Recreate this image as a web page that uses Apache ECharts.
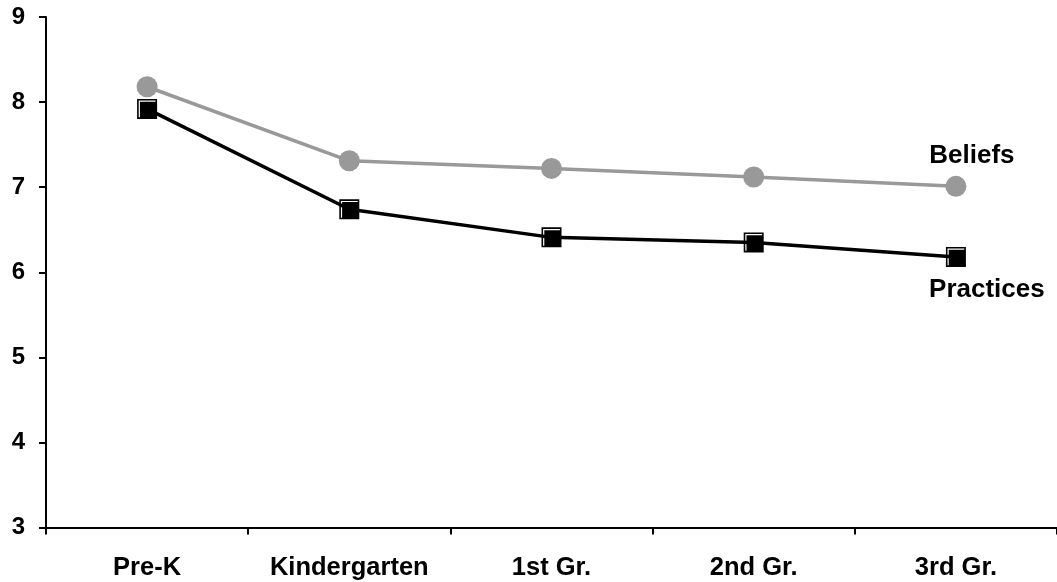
<!DOCTYPE html>
<html>
<head>
<meta charset="utf-8">
<script src="https://cdn.jsdelivr.net/npm/echarts@6/dist/echarts.min.js"></script>
<style>
html,body{margin:0;padding:0;background:#fff;}
#chart{width:1057px;height:582px;}
</style>
</head>
<body>
<div id="chart"></div>
<script>
const categories = ['Pre-K', 'Kindergarten', '1st Gr.', '2nd Gr.', '3rd Gr.'];
const beliefs = [8.18, 7.31, 7.22, 7.12, 7.01];
const practices = [7.92, 6.74, 6.41, 6.35, 6.18];
const yTicks = { min: 3, max: 9, interval: 1 };

const FONT = '"Liberation Sans", Arial, sans-serif';
const squarePath = 'path://M0 0H10V10H0Z M0.8 0.8V9.2H1.4V1.4H9.2V0.8Z';

function withEndLabel(values, name, labelOpts) {
  return values.map((v, i) => i === values.length - 1
    ? { value: v, label: Object.assign({ show: true, formatter: name }, labelOpts) }
    : v);
}

const chart = echarts.init(document.getElementById('chart'));
chart.setOption({
  animation: false,
  backgroundColor: '#fff',
  grid: { left: 46, right: 0, top: 17, bottom: 54.5, containLabel: false },
  textStyle: { fontFamily: FONT },
  xAxis: {
    type: 'category',
    data: categories,
    boundaryGap: true,
    axisLine: { lineStyle: { color: '#000', width: 2 } },
    axisTick: { show: true, alignWithLabel: false, length: 7, lineStyle: { color: '#000', width: 2 } },
    axisLabel: { color: '#000', fontSize: 25.5, fontWeight: 'bold', fontFamily: FONT, margin: 27, interval: 0 },
    splitLine: { show: false }
  },
  yAxis: {
    type: 'value',
    min: yTicks.min, max: yTicks.max, interval: yTicks.interval,
    axisLine: { show: true, lineStyle: { color: '#000', width: 2 } },
    axisTick: { show: true, length: 7, lineStyle: { color: '#000', width: 2 } },
    axisLabel: { color: '#000', fontSize: 24, fontWeight: 'bold', fontFamily: FONT, margin: 21 },
    splitLine: { show: false }
  },
  series: [
    {
      name: 'Beliefs',
      type: 'line',
      data: withEndLabel(beliefs, 'Beliefs', { position: 'top', offset: [16, -2] }),
      symbol: 'circle',
      symbolSize: 21,
      lineStyle: { color: '#999999', width: 3.5 },
      itemStyle: { color: '#999999' },
      label: { color: '#000', fontSize: 26, fontWeight: 'bold', fontFamily: FONT },
      z: 2
    },
    {
      name: 'Practices',
      type: 'line',
      data: withEndLabel(practices, 'Practices', { position: 'bottom', offset: [31, 5] }),
      symbol: squarePath,
      symbolSize: 20,
      symbolKeepAspect: true,
      lineStyle: { color: '#000', width: 3.5 },
      itemStyle: { color: '#000' },
      label: { color: '#000', fontSize: 26, fontWeight: 'bold', fontFamily: FONT },
      z: 3
    }
  ]
});
</script>
</body>
</html>
